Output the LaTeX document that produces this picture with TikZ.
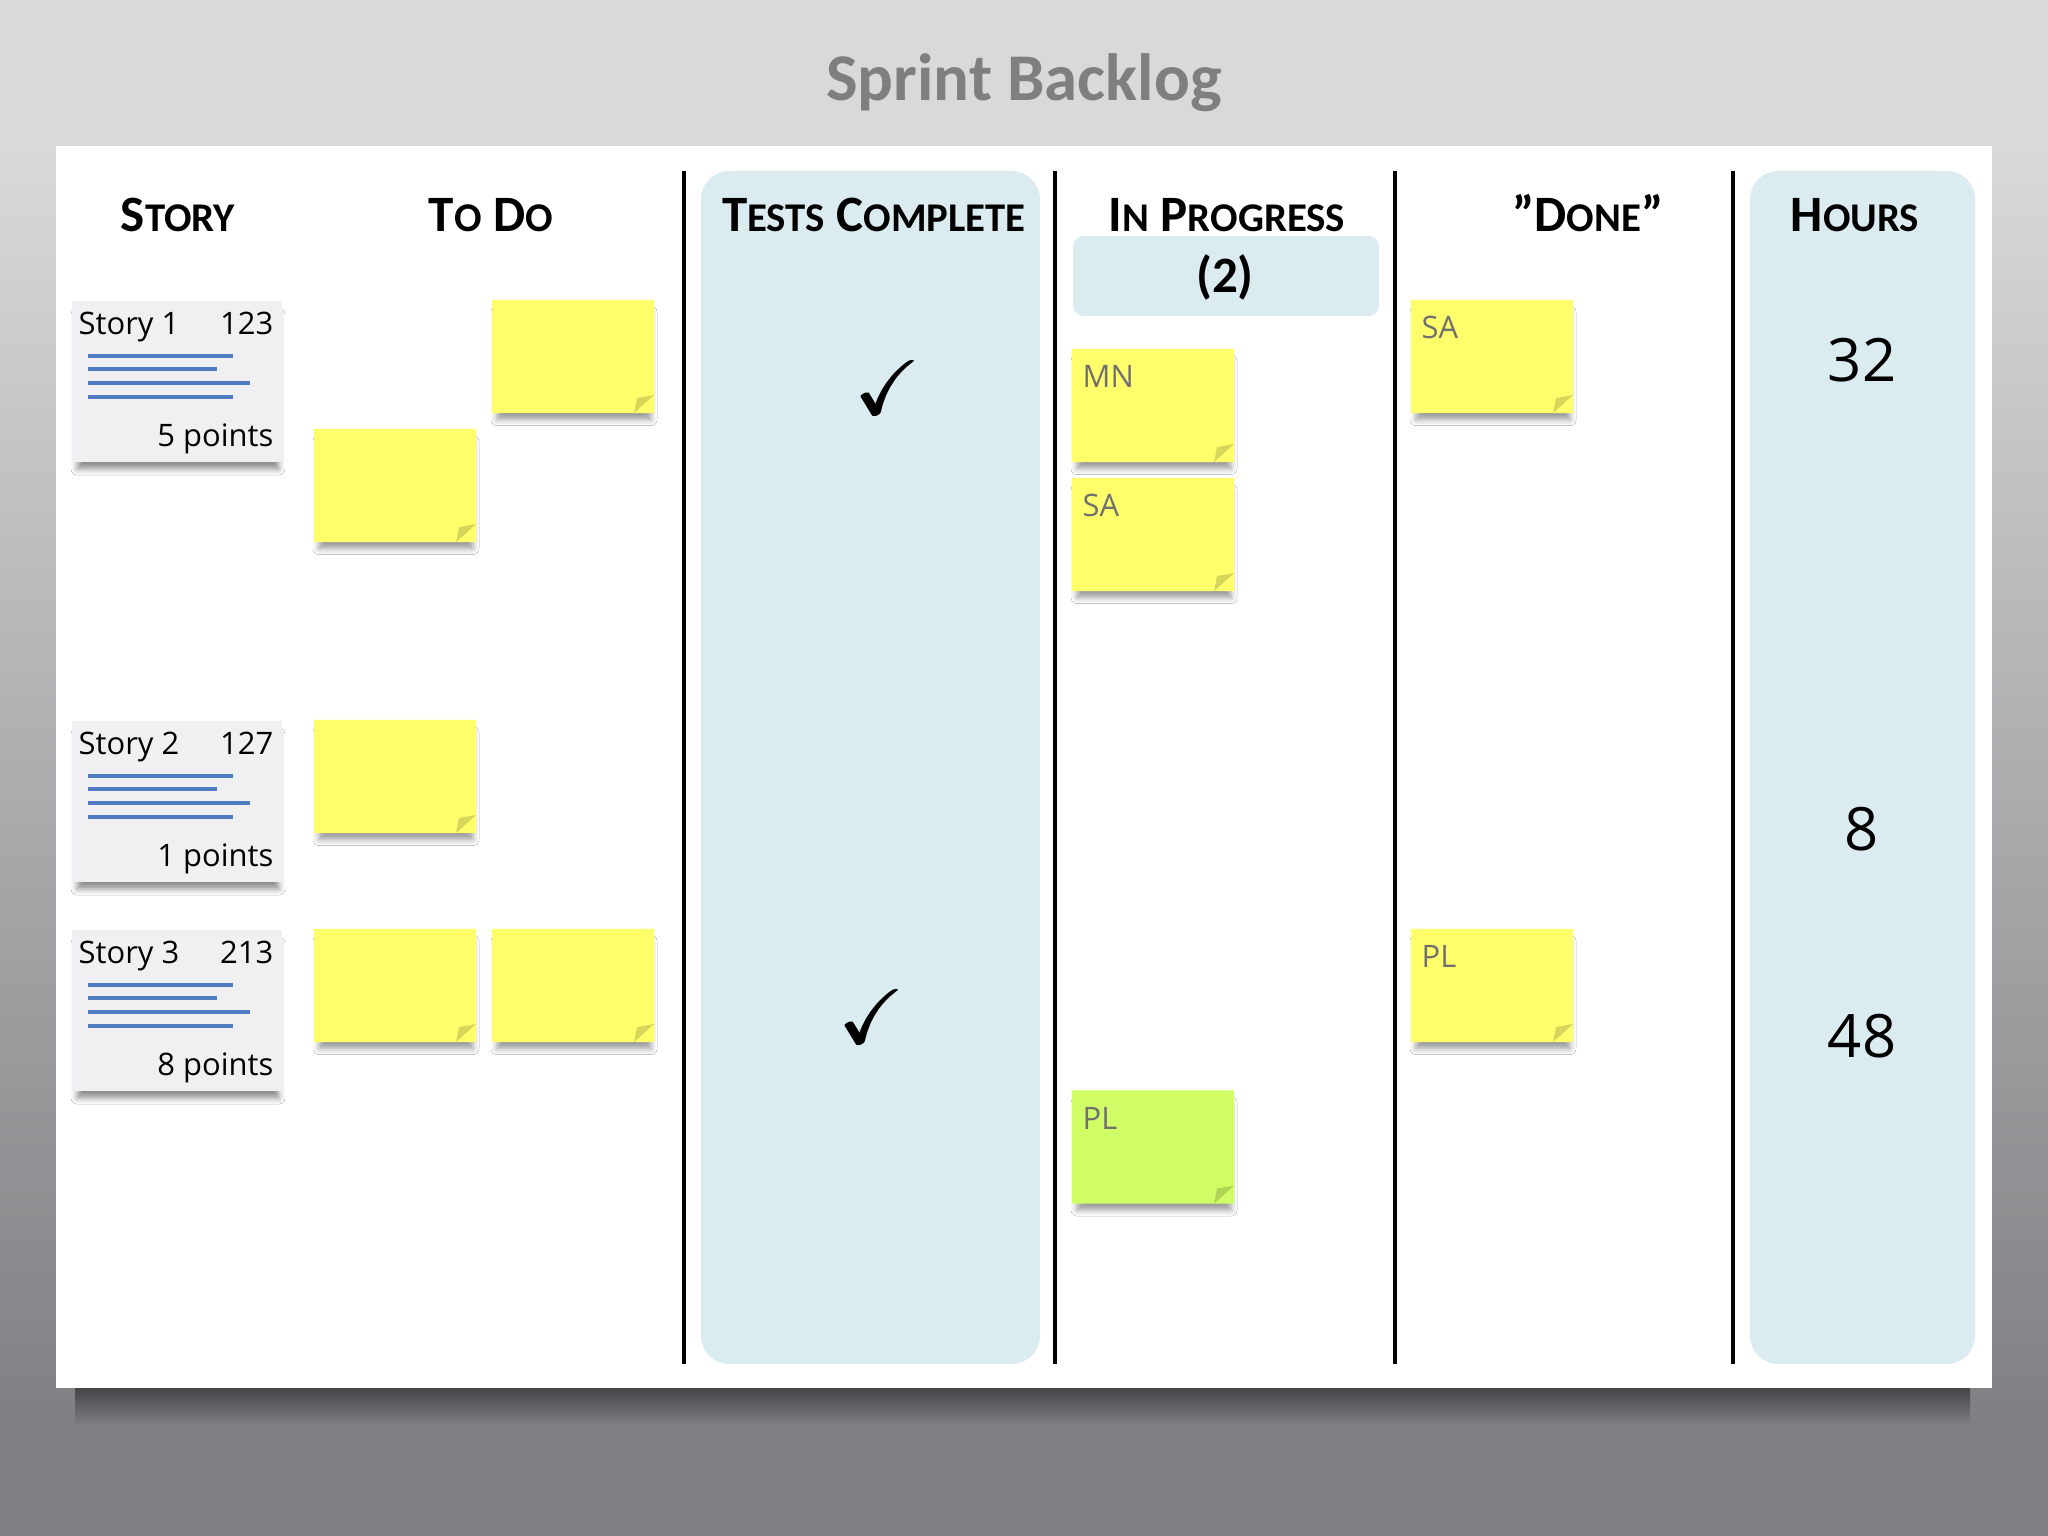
\documentclass[tikz,border=0pt]{standalone}
\usepackage{amssymb}
\usepackage{fontspec}
\usepackage{tikz}
\usetikzlibrary{calc,positioning,shapes.misc,shadows.blur}
\setmainfont{Open Sans}
\newfontfamily\hdrfont{Carlito}
\definecolor{bgtop}{HTML}{D9D9D9}
\definecolor{bgbot}{HTML}{807F83}
\definecolor{boardshadow}{HTML}{47454A}
\definecolor{panelblue}{HTML}{DBECF1}
\definecolor{notey}{HTML}{FFFF6B}
\definecolor{noteg}{HTML}{D0FC66}
\definecolor{cardgray}{HTML}{F0F0F2}
\definecolor{storyblue}{HTML}{4F7BC0}
\definecolor{lblgray}{HTML}{707070}
\definecolor{titlegray}{HTML}{7F7F7F}
\newcommand\hcap[2]{#1{\fontsize{11.6}{12}\selectfont #2}}
\newcommand\tick{\rlap{$\checkmark$}\hspace{0.5pt}$\checkmark$}

\begin{document}
\begin{tikzpicture}[x=0.01cm,y=-0.01cm,
	title/.style={anchor=base,text=titlegray,font=\hdrfont\bfseries\fontsize{19}{22}\selectfont},
	header/.style={anchor=base,font=\hdrfont\bfseries\fontsize{14.5}{16}\selectfont},
	panel/.style={fill=panelblue,rounded corners=8pt},
	colline/.style={line width=1.2pt},
	card/.style={rectangle,fill=cardgray,minimum width=2.10cm,minimum height=1.61cm,inner sep=0pt,
		blur shadow={shadow xshift=0.3pt,shadow yshift=-3pt,shadow blur radius=1.8pt,shadow opacity=45,shadow scale=0.96}},
	storytxt/.style={inner sep=0pt,font=\fontsize{8.8}{10}\selectfont},
	storyline/.style={storyblue,line width=0.9pt},
	sticky/.style={chamfered rectangle,chamfered rectangle corners=south east,
		chamfered rectangle xsep=0.2cm,chamfered rectangle ysep=0.18cm,
		minimum width=1.62cm,minimum height=1.13cm,inner sep=0pt,outer sep=0pt,fill=#1,
		blur shadow={shadow xshift=0.3pt,shadow yshift=-2.8pt,shadow blur radius=1.8pt,shadow opacity=40,shadow scale=0.95},
		path picture={\fill[#1!84!black] ($(path picture bounding box.south east)+(-20,0)$) -- ($(path picture bounding box.south east)+(0,-18)$) -- ($(path picture bounding box.south east)+(-17,-15)$) -- cycle;}},
	sticky/.default=notey,
	lbl/.style={anchor=base west,inner sep=0pt,text=lblgray,font=\fontsize{8.8}{10}\selectfont},
	hours/.style={inner sep=0pt,font=\fontsize{17}{20}\selectfont},
	check/.style={inner sep=0pt,font=\fontsize{22}{22}\selectfont}]
	\useasboundingbox (0,0) rectangle (2048,1536);
	\fill[bgtop] (0,0) rectangle (2048,150);
	\shade[top color=bgtop,bottom color=bgbot] (0,150) rectangle (2048,1420);
	\fill[bgbot] (0,1420) rectangle (2048,1536);
	\node[title] (ttl) at (1024,100) {Sprint Backlog};
	\shade[top color=boardshadow,bottom color=bgbot] (75,1388) rectangle (1970,1426);
	\fill[white] (56,146) rectangle (1992,1388);
	\fill[panel] (701,171) rectangle (1040,1364);
	\fill[panel] (1750,171) rectangle (1975,1364);
	\fill[panel,rounded corners=3pt] (1073,236) rectangle (1379,316);
	\draw[colline] (684,171) -- (684,1364);
	\draw[colline] (1055,171) -- (1055,1364);
	\draw[colline] (1395,171) -- (1395,1364);
	\draw[colline] (1733,171) -- (1733,1364);
	\node[header] (hstory) at (178,231) {\hcap{S}{TORY}};
	\node[header] (htodo) at (491,231) {\hcap{T}{O} \hcap{D}{O}};
	\node[header] (htests) at (874,231) {\hcap{T}{ESTS} \hcap{C}{OMPLETE}};
	\node[header] (hprog) at (1227,231) {\hcap{I}{N} \hcap{P}{ROGRESS}};
	\node[header] (wip) at (1225,292) {(2)};
	\node[header] (hdone) at (1588,231) {”\hcap{D}{ONE}”};
	\node[header] (hhours) at (1855,231) {\hcap{H}{OURS}};
	\node[card] (st1) at (177,381.5) {};
	\node[storytxt,anchor=base west] (st1name) at (78,334) {Story 1};
	\node[storytxt,anchor=base east] (st1id) at (274,334) {123};
	\draw[storyline] (88,356) -- (233,356) (88,369) -- (217,369) (88,383) -- (250,383) (88,397) -- (233,397);
	\node[storytxt,anchor=base east] (st1pts) at (274,446) {5 points};
	\node[card] (st2) at (177,801.5) {};
	\node[storytxt,anchor=base west] (st2name) at (78,754) {Story 2};
	\node[storytxt,anchor=base east] (st2id) at (274,754) {127};
	\draw[storyline] (88,776) -- (233,776) (88,789) -- (217,789) (88,803) -- (250,803) (88,817) -- (233,817);
	\node[storytxt,anchor=base east] (st2pts) at (274,866) {1 points};
	\node[card] (st3) at (177,1010.5) {};
	\node[storytxt,anchor=base west] (st3name) at (78,963) {Story 3};
	\node[storytxt,anchor=base east] (st3id) at (274,963) {213};
	\draw[storyline] (88,985) -- (233,985) (88,998) -- (217,998) (88,1012) -- (250,1012) (88,1026) -- (233,1026);
	\node[storytxt,anchor=base east] (st3pts) at (274,1075) {8 points};
	\node[sticky] (td1) at (573,356.5) {};
	\node[sticky] (td2) at (395,485.5) {};
	\node[sticky] (td3) at (395,776.5) {};
	\node[sticky] (td4) at (395,985.5) {};
	\node[sticky] (td5) at (573,985.5) {};
	\node[check] (ck1) at (888,388) {\tick};
	\node[check] (ck2) at (872,1017) {\tick};
	\node[sticky] (ip1) at (1153,405.5) {};
	\node[lbl] (ip1who) at (1082,387) {MN};
	\node[sticky] (ip2) at (1153,534.5) {};
	\node[lbl] (ip2who) at (1082,516) {SA};
	\node[sticky=noteg] (ip3) at (1153,1147) {};
	\node[lbl] (ip3who) at (1082,1129) {PL};
	\node[sticky] (dn1) at (1492,356.5) {};
	\node[lbl] (dn1who) at (1421,338) {SA};
	\node[sticky] (dn2) at (1492,985.5) {};
	\node[lbl] (dn2who) at (1421,967) {PL};
	\node[hours] (hr1) at (1862,360) {32};
	\node[hours] (hr2) at (1862,829) {8};
	\node[hours] (hr3) at (1862,1036) {48};
\end{tikzpicture}
\end{document}
